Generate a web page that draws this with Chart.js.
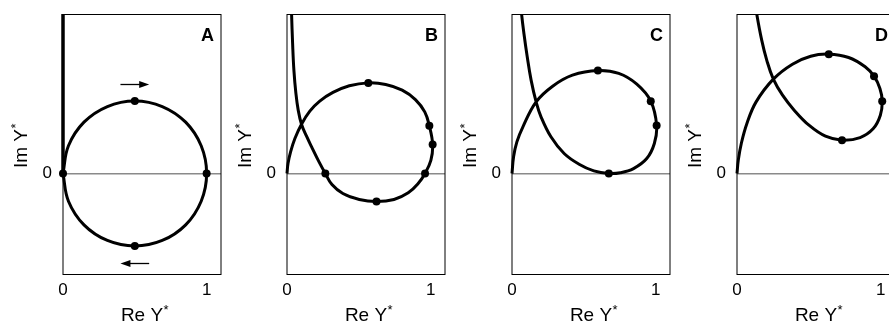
<!DOCTYPE html>
<html>
<head>
<meta charset="utf-8">
<script src="https://cdn.jsdelivr.net/npm/chart.js@4.4.1/dist/chart.umd.min.js"></script>
<style>
 html, body { margin: 0; padding: 0; background: #fff; overflow: hidden; }
 #wrap { position: relative; width: 889px; height: 326px; overflow: hidden; }
 canvas { position: absolute; top: 0; }
</style>
</head>
<body>
<div id="wrap">
 <canvas id="panelA" width="225" height="326" style="left:0px"></canvas>
 <canvas id="panelB" width="225" height="326" style="left:224px"></canvas>
 <canvas id="panelC" width="225" height="326" style="left:449px"></canvas>
 <canvas id="panelD" width="225" height="326" style="left:674px"></canvas>
</div>
<script>
 // axis setup
 const xTicks = [0, 1];
 const yTicks = [0];
 const xRange = [0, 1.1];
 const yRange = [-0.7, 1.1];

 // Panel A - circle plus the branch running up the Im axis
 const axisLineA = [[0, 0], [0, 1.12]];
 const curveA = [
  [0, 0], [0.038, 0.191], [0.146, 0.354], [0.309, 0.462], [0.5, 0.5],
  [0.691, 0.462], [0.854, 0.354], [0.962, 0.191], [1, 0],
  [0.962, -0.191], [0.854, -0.354], [0.691, -0.462], [0.5, -0.5],
  [0.309, -0.462], [0.146, -0.354], [0.038, -0.191], [0, 0]
 ];
 const dotsA = [[0, 0], [0.5, 0.5], [1, 0], [0.5, -0.5]];
 const arrowsA = [[0.40, 0.60, 0.616], [0.60, 0.40, -0.618]];

 // Panel B
 const curveB = [
  [0, 0], [0.007, 0.069], [0.025, 0.149], [0.055, 0.241], [0.101, 0.340],
  [0.159, 0.430], [0.228, 0.499], [0.320, 0.559], [0.434, 0.605], [0.566, 0.625],
  [0.687, 0.614], [0.802, 0.575], [0.894, 0.510], [0.959, 0.425], [0.991, 0.329],
  [1.014, 0.200], [1.002, 0.092], [0.961, 0], [0.913, -0.069], [0.844, -0.133],
  [0.745, -0.179], [0.623, -0.193], [0.503, -0.179], [0.389, -0.138], [0.313, -0.076],
  [0.267, 0], [0.223, 0.080], [0.177, 0.172], [0.136, 0.257], [0.101, 0.340],
  [0.078, 0.437], [0.062, 0.552], [0.048, 0.713], [0.039, 0.897], [0.032, 1.097],
  [0.031, 1.15]
 ];
 const dotsB = [[0.566, 0.625], [0.991, 0.329], [1.014, 0.200], [0.961, 0], [0.623, -0.193], [0.267, 0]];

 // Panel C
 const curveC = [
  [0, 0], [0.011, 0.115], [0.034, 0.218], [0.076, 0.322], [0.168, 0.494],
  [0.283, 0.602], [0.421, 0.678], [0.598, 0.710], [0.743, 0.690], [0.869, 0.616],
  [0.966, 0.499], [1.007, 0.331], [0.991, 0.207], [0.938, 0.103], [0.846, 0.034],
  [0.754, 0.005], [0.674, 0], [0.570, 0.018], [0.467, 0.064], [0.363, 0.138],
  [0.271, 0.253], [0.202, 0.391], [0.168, 0.494], [0.133, 0.644], [0.106, 0.805],
  [0.083, 0.966], [0.067, 1.097], [0.064, 1.15]
 ];
 const dotsC = [[0.598, 0.710], [0.966, 0.499], [1.007, 0.331], [0.674, 0]];

 // Panel D
 const curveD = [
  [0, 0], [0.009, 0.092], [0.030, 0.207], [0.069, 0.345], [0.133, 0.494],
  [0.253, 0.651], [0.386, 0.754], [0.513, 0.809], [0.639, 0.823], [0.777, 0.800],
  [0.892, 0.736], [0.954, 0.671], [0.995, 0.586], [1.011, 0.499], [0.998, 0.402],
  [0.949, 0.310], [0.857, 0.248], [0.731, 0.230], [0.616, 0.257], [0.501, 0.333],
  [0.398, 0.437], [0.317, 0.540], [0.253, 0.651], [0.207, 0.782], [0.172, 0.920],
  [0.138, 1.097], [0.132, 1.15]
 ];
 const dotsD = [[0.639, 0.823], [0.954, 0.671], [1.011, 0.499], [0.731, 0.230]];

 const FONT = '"Liberation Sans", Arial, Helvetica, sans-serif';
 const toXY = pts => pts.map(p => ({ x: p[0], y: p[1] }));

 // draws "Re Y*" style text: label centred on cx, small raised asterisk after it
 function starText(ctx, label, cx, baseY) {
  ctx.textAlign = 'left';
  ctx.textBaseline = 'alphabetic';
  ctx.font = '19px ' + FONT;
  const w1 = ctx.measureText(label).width;
  const x0 = cx - w1 / 2;
  ctx.fillText(label, x0, baseY);
  ctx.font = '13px ' + FONT;
  ctx.fillText('*', x0 + w1 + 0.5, baseY - 7);
 }

 const decor = {
  id: 'decor',
  beforeDatasetsDraw(chart) {
   const { ctx, chartArea: a } = chart;
   ctx.save();
   ctx.strokeStyle = '#000';
   ctx.lineWidth = 1;
   ctx.strokeRect(Math.round(a.left), Math.round(a.top) + 0.5, Math.round(a.right - a.left), Math.round(a.bottom - a.top) - 1);
   ctx.restore();
  },
  afterDraw(chart, args, opts) {
   const { ctx, chartArea: a, scales } = chart;
   ctx.save();
   ctx.fillStyle = '#000';

   // axis titles
   starText(ctx, 'Re Y', (a.left + a.right) / 2, 321);
   ctx.save();
   ctx.translate(a.left - 36, (a.top + a.bottom) / 2 + 4);
   ctx.rotate(-Math.PI / 2);
   starText(ctx, 'Im Y', 0, 0);
   ctx.restore();

   // panel letter
   ctx.font = 'bold 18px ' + FONT;
   ctx.textAlign = 'right';
   ctx.textBaseline = 'alphabetic';
   ctx.fillText(opts.letter, a.right - 7, a.top + 27);

   // direction arrows
   ctx.strokeStyle = '#000';
   ctx.lineWidth = 1.3;
   (opts.arrows || []).forEach(ar => {
    const px0 = scales.x.getPixelForValue(ar[0]);
    const px1 = scales.x.getPixelForValue(ar[1]);
    const py = Math.round(scales.y.getPixelForValue(ar[2])) + 0.5;
    const dir = px1 > px0 ? 1 : -1;
    ctx.beginPath();
    ctx.moveTo(px0, py);
    ctx.lineTo(px1 - dir * 6, py);
    ctx.stroke();
    ctx.beginPath();
    ctx.moveTo(px1, py);
    ctx.lineTo(px1 - dir * 10, py - 3.5);
    ctx.lineTo(px1 - dir * 10, py + 3.5);
    ctx.closePath();
    ctx.fill();
   });
   ctx.restore();
  }
 };

 function makePanel(id, letter, lines, dots, arrows) {
  const datasets = lines.map(l => ({
   data: toXY(l.pts),
   showLine: true,
   tension: l.tension,
   borderColor: '#000',
   borderWidth: l.width,
   pointRadius: 0,
   clip: { left: 5, top: 0, right: 5, bottom: 5 }
  }));
  datasets.push({
   data: toXY(dots),
   showLine: false,
   pointRadius: 4,
   pointBorderWidth: 0,
   pointBackgroundColor: '#000',
   clip: false
  });

  return new Chart(document.getElementById(id), {
   type: 'scatter',
   data: { datasets: datasets },
   options: {
    responsive: false,
    animation: false,
    devicePixelRatio: 1,
    layout: { padding: { top: 14, right: 2, left: 0, bottom: 0 } },
    plugins: {
     legend: { display: false },
     tooltip: { enabled: false },
     decor: { letter: letter, arrows: arrows }
    },
    scales: {
     x: {
      type: 'linear',
      min: xRange[0],
      max: xRange[1],
      afterBuildTicks: s => { s.ticks = xTicks.map(v => ({ value: v })); },
      afterFit: s => { s.height = 51; s.paddingLeft = 0; s.paddingRight = 0; },
      grid: { display: false, drawTicks: false },
      border: { display: false },
      ticks: { color: '#000', padding: 5, maxRotation: 0, autoSkip: false, font: { family: FONT, size: 17 }, callback: v => String(v) }
     },
     y: {
      type: 'linear',
      min: yRange[0],
      max: yRange[1],
      afterBuildTicks: s => { s.ticks = yTicks.map(v => ({ value: v })); },
      afterFit: s => { s.width = 63; s.paddingTop = 0; s.paddingBottom = 0; },
      grid: { drawTicks: false, color: '#8a8a8a', lineWidth: 1.5 },
      border: { display: false },
      ticks: { color: '#000', padding: 11, autoSkip: false, font: { family: FONT, size: 17 }, callback: v => String(v) }
     }
    }
   },
   plugins: [decor]
  });
 }

 makePanel('panelA', 'A', [
  { pts: axisLineA, tension: 0, width: 3.5 },
  { pts: curveA, tension: 0.4, width: 3 }
 ], dotsA, arrowsA);
 makePanel('panelB', 'B', [{ pts: curveB, tension: 0.4, width: 3 }], dotsB, []);
 makePanel('panelC', 'C', [{ pts: curveC, tension: 0.4, width: 3 }], dotsC, []);
 makePanel('panelD', 'D', [{ pts: curveD, tension: 0.4, width: 3 }], dotsD, []);
</script>
</body>
</html>
